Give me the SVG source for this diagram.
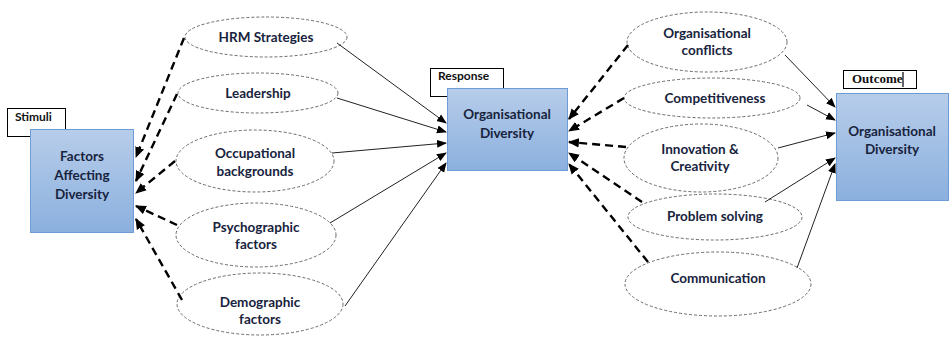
<svg xmlns="http://www.w3.org/2000/svg" width="950" height="337" viewBox="0 0 950 337">
  <defs>
    <linearGradient id="boxFill" x1="0" y1="0" x2="0" y2="1">
      <stop offset="0" stop-color="#b7cdea"/>
      <stop offset="1" stop-color="#8bb0de"/>
    </linearGradient>
    <marker id="headDash" markerUnits="userSpaceOnUse" markerWidth="11" markerHeight="11" viewBox="0 0 10 10" refX="9" refY="5" orient="auto">
      <path d="M0,0.8 L10,5 L0,9.2 Z" fill="#000"/>
    </marker>
    <marker id="headSolid" markerUnits="userSpaceOnUse" markerWidth="10" markerHeight="10" viewBox="0 0 10 10" refX="9" refY="5" orient="auto">
      <path d="M0,1 L10,5 L0,9 Z" fill="#000"/>
    </marker>
  </defs>
  <style>
    .tag { fill: #fff; stroke: #000; stroke-width: 1; }
    .box { fill: url(#boxFill); stroke: #6e9cd6; stroke-width: 1; }
    .oval { fill: #fff; stroke: #6a6a6a; stroke-width: 1; stroke-dasharray: 3 2; }
    .lbl { font-family: Lato, "Liberation Sans", sans-serif; font-weight: bold; font-size: 13.5px; fill: #18233d; text-anchor: middle; }
    .tagtxt { font-family: Lato, "Liberation Sans", sans-serif; font-weight: bold; font-size: 12px; fill: #111; }
    .serif { font-family: "Liberation Serif", serif; font-weight: bold; font-size: 13px; fill: #111; }
    .dash { fill: none; stroke: #000; stroke-width: 2.4; stroke-dasharray: 8 5; marker-end: url(#headDash); }
    .thin { fill: none; stroke: #222; stroke-width: 1; marker-end: url(#headSolid); }
  </style>

  <rect width="950" height="337" fill="#fff"/>

  <!-- Stimuli block -->
  <g id="stimuli">
    <rect class="tag" x="7.5" y="108.5" width="58" height="28"/>
    <text class="tagtxt" x="15" y="121">Stimuli</text>
    <rect class="box" x="30.5" y="129.5" width="103" height="103"/>
    <text class="lbl" x="82" y="161">Factors</text>
    <text class="lbl" x="82" y="180">Affecting</text>
    <text class="lbl" x="82" y="199">Diversity</text>
  </g>

  <!-- Stimulus factors -->
  <g id="hrm">
    <ellipse class="oval" cx="266" cy="37" rx="81" ry="20"/>
    <text class="lbl" x="266" y="42">HRM Strategies</text>
  </g>
  <g id="leadership">
    <ellipse class="oval" cx="258" cy="93" rx="80" ry="20"/>
    <text class="lbl" x="258" y="98">Leadership</text>
  </g>
  <g id="occupational">
    <ellipse class="oval" cx="255" cy="161" rx="79" ry="31"/>
    <text class="lbl" x="255" y="158">Occupational</text>
    <text class="lbl" x="255" y="176">backgrounds</text>
  </g>
  <g id="psychographic">
    <ellipse class="oval" cx="256" cy="235" rx="80" ry="32"/>
    <text class="lbl" x="256" y="232">Psychographic</text>
    <text class="lbl" x="256" y="249">factors</text>
  </g>
  <g id="demographic">
    <ellipse class="oval" cx="260" cy="304" rx="83" ry="31"/>
    <text class="lbl" x="260" y="307">Demographic</text>
    <text class="lbl" x="260" y="324">factors</text>
  </g>

  <!-- Response block -->
  <g id="response">
    <rect class="tag" x="430.5" y="68.5" width="73" height="28"/>
    <text class="tagtxt" x="438" y="80">Response</text>
    <rect class="box" x="447.5" y="88.5" width="120" height="82"/>
    <text class="lbl" x="507" y="119">Organisational</text>
    <text class="lbl" x="507" y="138">Diversity</text>
  </g>

  <!-- Response factors -->
  <g id="conflicts">
    <ellipse class="oval" cx="707" cy="42" rx="80" ry="30"/>
    <text class="lbl" x="707" y="38">Organisational</text>
    <text class="lbl" x="707" y="55">conflicts</text>
  </g>
  <g id="competitiveness">
    <ellipse class="oval" cx="712" cy="98" rx="88" ry="20"/>
    <text class="lbl" x="715" y="103">Competitiveness</text>
  </g>
  <g id="innovation">
    <ellipse class="oval" cx="701" cy="158" rx="77" ry="34"/>
    <text class="lbl" x="700" y="154">Innovation &amp;</text>
    <text class="lbl" x="700" y="171">Creativity</text>
  </g>
  <g id="problem">
    <ellipse class="oval" cx="715" cy="217" rx="87" ry="23"/>
    <text class="lbl" x="715" y="221">Problem solving</text>
  </g>
  <g id="communication">
    <ellipse class="oval" cx="718" cy="284" rx="93" ry="32"/>
    <text class="lbl" x="718" y="283">Communication</text>
  </g>

  <!-- Outcome block -->
  <g id="outcome">
    <rect class="box" x="836.5" y="93.5" width="112" height="107"/>
    <rect class="tag" x="843.5" y="70.5" width="73" height="18"/>
    <text class="serif" x="852" y="83">Outcome</text>
    <line x1="903" y1="72" x2="903" y2="87" stroke="#000" stroke-width="1.2"/>
    <text class="lbl" x="892" y="136">Organisational</text>
    <text class="lbl" x="892" y="154">Diversity</text>
  </g>

  <!-- Connectors -->
  <g id="connectors">
    <!-- stimulus factors to Factors Affecting Diversity -->
    <line class="dash" x1="184" y1="38" x2="136" y2="157"/>
    <line class="dash" x1="177" y1="94" x2="136" y2="181"/>
    <line class="dash" x1="175" y1="161" x2="136" y2="193"/>
    <line class="dash" x1="177" y1="225" x2="136" y2="206"/>
    <line class="dash" x1="182" y1="300" x2="136" y2="219"/>

    <!-- stimulus factors to Organisational Diversity (response) -->
    <line class="thin" x1="337" y1="43" x2="446" y2="123"/>
    <line class="thin" x1="337" y1="98" x2="446" y2="132"/>
    <line class="thin" x1="332" y1="153" x2="446" y2="143"/>
    <line class="thin" x1="330" y1="223" x2="446" y2="153"/>
    <line class="thin" x1="345" y1="306" x2="446" y2="163"/>

    <!-- response factors to Organisational Diversity (response) -->
    <line class="dash" x1="628" y1="45" x2="569" y2="119"/>
    <line class="dash" x1="624" y1="98" x2="569" y2="131"/>
    <line class="dash" x1="626" y1="147" x2="569" y2="142"/>
    <line class="dash" x1="642" y1="202" x2="569" y2="153"/>
    <line class="dash" x1="648" y1="262" x2="569" y2="164"/>

    <!-- response factors to Organisational Diversity (outcome) -->
    <line class="thin" x1="785" y1="55" x2="835" y2="107"/>
    <line class="thin" x1="807" y1="105" x2="835" y2="120"/>
    <line class="thin" x1="778" y1="148" x2="835" y2="133"/>
    <line class="thin" x1="765" y1="202" x2="835" y2="158"/>
    <line class="thin" x1="797" y1="268" x2="835" y2="164"/>
  </g>
</svg>
